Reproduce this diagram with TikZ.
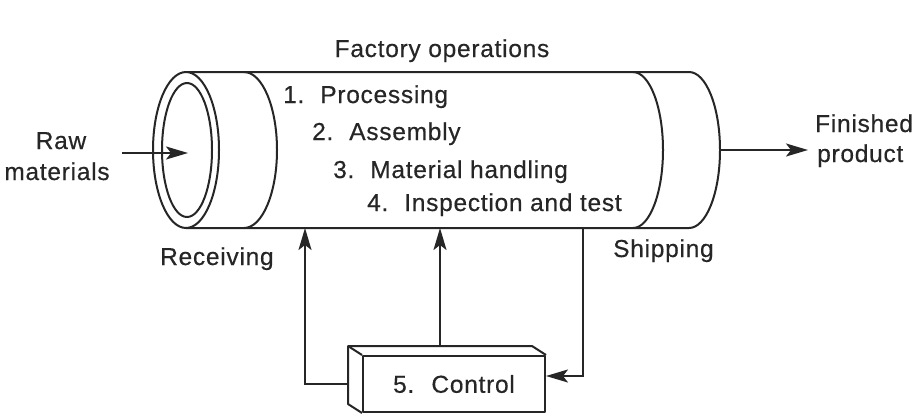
\documentclass[tikz,border=0pt]{standalone}
\usepackage{fontspec}
\setmainfont{Liberation Sans}[LetterSpace=3,FakeBold=0.4]
\usetikzlibrary{arrows.meta,calc}
\definecolor{ink}{RGB}{38,38,38}
\begin{document}
\begin{tikzpicture}[x=1pt,y=-1pt,
  line/.style={draw=ink,line width=2pt,line join=round},
  arr/.style={draw=ink,line width=2pt,-{Stealth[length=22pt,width=13pt,inset=5pt]}},
  lbl/.style={font=\fontsize{24.5}{29}\selectfont,text=ink,inner sep=0pt}]
\useasboundingbox (0,0) rectangle (915,416);
\fill[white] (0,0) rectangle (915,416);

% cylinder
\draw[line] (186,72) -- (689,72) arc[start angle=90,end angle=-90,x radius=31pt,y radius=78pt] -- (186,228);
\draw[line] (244,72) arc[start angle=90,end angle=-90,x radius=33pt,y radius=78pt];
\draw[line] (633,72) arc[start angle=90,end angle=-90,x radius=30pt,y radius=78pt];
\draw[line,fill=white] (186,150) ellipse[x radius=33pt,y radius=78pt];
\draw[line] (187,150) ellipse[x radius=25pt,y radius=67pt];

% texts
\node[lbl,anchor=base] (fo) at (442,57) {Factory operations};
\node[lbl,anchor=base west] (t1) at (283,103) {1.\hspace{0.65em}Processing};
\node[lbl,anchor=base west] (t2) at (312,140) {2.\hspace{0.65em}Assembly};
\node[lbl,anchor=base west] (t3) at (333,178) {3.\hspace{0.65em}Material handling};
\node[lbl,anchor=base west] (t4) at (367,211) {4.\hspace{0.65em}Inspection and test};
\node[lbl,anchor=base west] (rec) at (160,265) {Receiving};
\node[lbl,anchor=base west] (shp) at (613,257) {Shipping};
\node[lbl,anchor=base] (raw1) at (61,149) {Raw};
\node[lbl,anchor=base] (raw2) at (57,180) {materials};
\node[lbl,anchor=base west] (fin1) at (815,132) {Finished};
\node[lbl,anchor=base west] (fin2) at (817,162) {product};

% in / out arrows
\coordinate (rawout) at (122,153);
\coordinate (inl) at (188,153);
\draw[arr] (rawout) -- (inl);
\coordinate (endr) at (720,150);
\coordinate (fout) at (808,150);
\draw[arr] (endr) -- (fout);

% control box
\node[line,lbl,minimum width=182pt,minimum height=56pt] (ctrl) at (454,384) {5.\hspace{0.7em}Control};
\draw[line] (ctrl.north east) -- ++(-14,-9) -- ($(ctrl.north west)+(-14,-9)$) -- ($(ctrl.south west)+(-14,-9)$) -- (ctrl.south west);
\draw[line] (ctrl.north west) -- ++(-14,-9);

% control connectors
\coordinate (b1) at (305,228);
\coordinate (b2) at (440,228);
\coordinate (b3) at (583,228);
\draw[arr] ($(ctrl.west)+(-14,0)$) -| (b1);
\draw[arr] ($(ctrl.north)+(-14,-9)$) -- (b2);
\draw[arr] (b3) |- ($(ctrl.east)+(0,-8)$);
\end{tikzpicture}
\end{document}
